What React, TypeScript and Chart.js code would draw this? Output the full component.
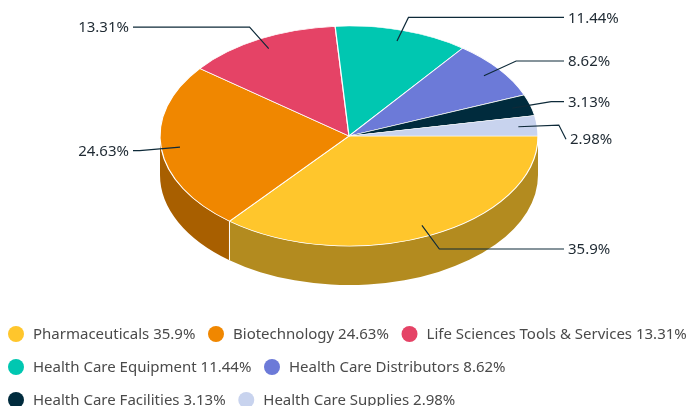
import React, { useEffect, useRef } from "react";
import { Chart, registerables } from "chart.js";

Chart.register(...registerables);

const categories = [
  "Pharmaceuticals",
  "Biotechnology",
  "Life Sciences Tools & Services",
  "Health Care Equipment",
  "Health Care Distributors",
  "Health Care Facilities",
  "Health Care Supplies",
];
const values = [35.9, 24.63, 13.31, 11.44, 8.62, 3.13, 2.98];
const colors = ["#FFC62C", "#F08700", "#E54366", "#00C7B1", "#6C7AD8", "#002B3D", "#C8D3EE"];
const wallColors = ["#B38B1F", "#A85F00", "#A02F47", "#008B7C", "#4C5597", "#001E2B", "#8C94A7"];

const FONT = '"Noto Sans", sans-serif';
const CX = 349;
const CY = 136;
const RX = 189;
const RY = 110;
const DEPTH = 39;

const pie3d = {
  id: "pie3d",
  beforeDatasetsDraw(chart: any) {
    const ctx = chart.ctx;
    const arcs = chart.getDatasetMeta(0).data;
    const first = arcs[0];
    ctx.save();
    arcs.forEach((a: any, i: number) => {
      const s = Math.max(a.startAngle, 0);
      const e = Math.min(a.endAngle, Math.PI);
      if (e <= s) return;
      ctx.beginPath();
      ctx.ellipse(CX, CY, RX, RY, 0, s, e);
      ctx.ellipse(CX, CY + DEPTH, RX, RY, 0, e, s, true);
      ctx.closePath();
      ctx.fillStyle = wallColors[i];
      ctx.fill();
    });
    arcs.forEach((a: any) => {
      if (a.endAngle > 0 && a.endAngle < Math.PI) {
        const x = CX + RX * Math.cos(a.endAngle);
        const y = CY + RY * Math.sin(a.endAngle);
        ctx.beginPath();
        ctx.moveTo(x, y);
        ctx.lineTo(x, y + DEPTH);
        ctx.strokeStyle = "#ffffff";
        ctx.lineWidth = 1;
        ctx.stroke();
      }
    });
    ctx.restore();
    ctx.save();
    ctx.translate(CX, CY);
    ctx.scale(RX / first.outerRadius, RY / first.outerRadius);
    ctx.translate(-first.x, -first.y);
  },
  afterDatasetsDraw(chart: any) {
    const ctx = chart.ctx;
    ctx.restore();
    const arcs = chart.getDatasetMeta(0).data;
    const items = arcs.map((a: any, i: number) => {
      const m = (a.startAngle + a.endAngle) / 2;
      const c = Math.cos(m);
      const s = Math.sin(m);
      const yElbow = CY + 0.7 + RY * 1.13 * s;
      return {
        text: values[i] + "%",
        right: c >= 0,
        x0: CX + RX * 0.9 * c,
        y0: CY + RY * 0.9 * s,
        x1: CX + RX * 1.115 * c,
        y1: yElbow,
        y2: yElbow,
        nudge: 0,
      };
    });
    const rightSide = items.filter((t: any) => t.right).sort((p: any, q: any) => p.y1 - q.y1);
    rightSide.forEach((t: any, i: number) => {
      if (i > 0 && t.y2 < rightSide[i - 1].y2 + 37.5) {
        t.y2 = rightSide[i - 1].y2 + 37.5;
        t.nudge = 2;
      }
    });
    ctx.save();
    ctx.font = `15px ${FONT}`;
    ctx.textBaseline = "middle";
    items.forEach((t: any) => {
      const xEnd = t.right ? CX + 215 + t.nudge : CX - 216;
      ctx.beginPath();
      ctx.moveTo(t.x0, t.y0);
      ctx.lineTo(t.x1, t.y1);
      ctx.lineTo(xEnd, t.y2);
      ctx.strokeStyle = "#0e2a39";
      ctx.lineWidth = 1.2;
      ctx.stroke();
      ctx.fillStyle = "#1f2a33";
      ctx.textAlign = t.right ? "left" : "right";
      ctx.fillText(t.text, t.right ? xEnd + 4 : xEnd - 4, t.y2 + 1);
    });
    ctx.restore();
  },
  afterDraw(chart: any) {
    const ctx = chart.ctx;
    ctx.save();
    ctx.font = `15px ${FONT}`;
    ctx.textBaseline = "middle";
    ctx.textAlign = "left";
    let x = 8;
    let y = 334;
    categories.forEach((name, i) => {
      const text = `${name} ${values[i]}%`;
      const w = 25 + ctx.measureText(text).width;
      if (x > 8 && x + w > chart.width + 4) {
        x = 8;
        y += 33;
      }
      ctx.fillStyle = colors[i];
      ctx.beginPath();
      ctx.arc(x + 8, y, 8, 0, Math.PI * 2);
      ctx.fill();
      ctx.fillStyle = "#4a4a4a";
      ctx.fillText(text, x + 25, y + 0.5);
      x += w + 12.6;
    });
    ctx.restore();
  },
};

export default function App() {
  const ref = useRef<HTMLCanvasElement>(null);
  useEffect(() => {
    document.body.style.margin = "0";
    const chart = new Chart(ref.current!, {
      type: "pie",
      data: {
        labels: categories,
        datasets: [
          {
            data: values,
            backgroundColor: colors,
            borderColor: "#ffffff",
            borderWidth: 1.2,
            clip: false,
          } as any,
        ],
      },
      plugins: [pie3d],
      options: {
        responsive: false,
        animation: false,
        rotation: 90,
        layout: { padding: { top: 14, bottom: 14 } },
        plugins: {
          tooltip: { enabled: false },
          legend: { display: false },
        },
      } as any,
    });
    return () => chart.destroy();
  }, []);
  return (
    <div style={{ width: 688, height: 406, overflow: "hidden", position: "relative" }}>
      <canvas ref={ref} width={688} height={406} style={{ display: "block" }} />
    </div>
  );
}
